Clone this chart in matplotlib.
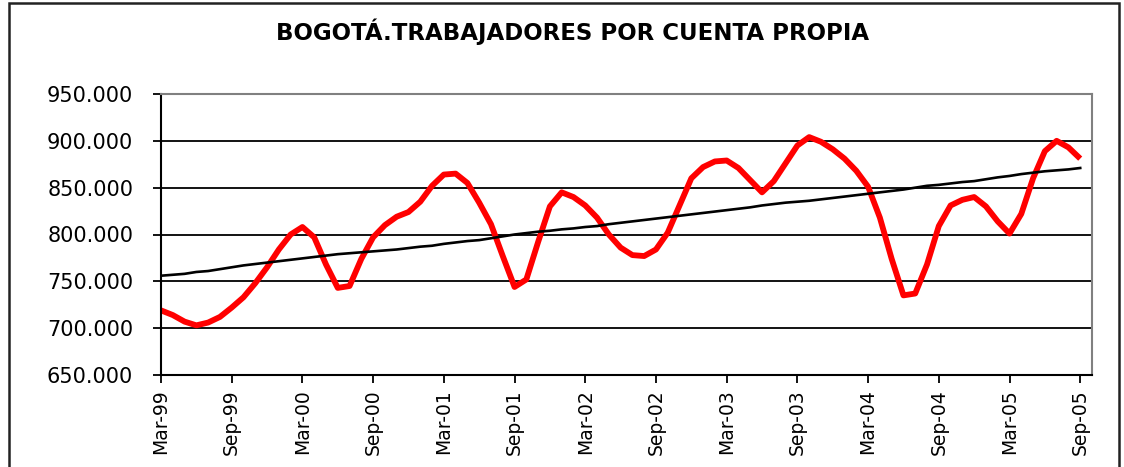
import matplotlib.pyplot as plt
from matplotlib.patches import Rectangle

# --- Data: monthly series, Mar-99 .. Sep-05 (thousands of workers) ---
years = ["99", "00", "01", "02", "03", "04", "05"]
tick_labels = []
for y in years:
    tick_labels += ["Mar-" + y, "Sep-" + y]

cuenta_propia = [
    719, 714, 707, 703, 706, 712, 722, 733, 748, 765,
    784, 800, 808, 797, 768, 743, 745, 774, 797, 810,
    819, 824, 835, 852, 864, 865, 855, 834, 811, 777,
    744, 752, 792, 830, 845, 840, 831, 818, 800, 786,
    778, 777, 784, 802, 831, 860, 872, 878, 879, 871,
    858, 845, 857, 876, 895, 904, 899, 891, 881, 868,
    851, 818, 774, 735, 737, 768, 809, 831, 837, 840,
    830, 814, 801, 822, 860, 889, 900, 893, 881,
]

tendencia = [
    756, 757, 758, 760, 761, 763, 765, 767, 768.5, 770,
    771.5, 773, 774.5, 776, 777.5, 779, 780, 781, 782, 783,
    784, 785.5, 787, 788, 790, 791.5, 793, 794, 796, 798,
    800, 801.5, 803, 804, 805.5, 806.5, 808, 809, 811, 812.5,
    814, 815.5, 817, 818.5, 820, 821.5, 823, 824.5, 826, 827.5,
    829, 831, 832.5, 834, 835, 836, 837.5, 839, 840.5, 842,
    843.5, 845, 846.5, 848, 850, 852, 853, 854.5, 856, 857,
    859, 861, 862.5, 864.5, 866, 867.5, 868.5, 869.5, 871,
]

months = list(range(len(cuenta_propia)))

fig = plt.figure(figsize=(11.24, 4.67), dpi=100)
ax = fig.add_axes([161 / 1124, 1 - 375 / 467, (1092 - 161) / 1124, (375 - 94) / 467])

ax.plot(months, cuenta_propia, color="#ff0000", linewidth=4.2,
        solid_joinstyle="round", solid_capstyle="butt")
ax.plot(months, tendencia, color="black", linewidth=1.9)

ax.set_xlim(0, 79)
ax.set_ylim(650, 950)
ax.set_yticks(range(650, 951, 50))
ax.set_yticklabels([f"{v}.000" for v in range(650, 951, 50)])
ax.set_xticks(range(0, 79, 6))
ax.set_xticklabels(tick_labels, rotation=90)

ax.grid(axis="y", color="black", linewidth=1.3)
ax.set_axisbelow(True)
for s in ["top", "right"]:
    ax.spines[s].set_color("#808080")
    ax.spines[s].set_linewidth(1.5)
for s in ["left", "bottom"]:
    ax.spines[s].set_color("black")
    ax.spines[s].set_linewidth(1.5)

ax.tick_params(axis="y", direction="out", length=6, width=1.3, pad=14, labelsize=15)
ax.tick_params(axis="x", direction="out", length=6, width=1.3, pad=4, labelsize=13.5)

fig.text(0.509, 1 - 32 / 467, "BOGOTÁ.TRABAJADORES POR CUENTA PROPIA",
         ha="center", va="center", fontsize=16.5, fontweight="bold")

# outer chart frame
fig.patches.append(Rectangle((9 / 1124, -0.01), 1110 / 1124, 1 - 3 / 467 + 0.01,
                             transform=fig.transFigure, fill=False,
                             edgecolor="#222222", linewidth=1.8))

fig.savefig("out.png", dpi=100)
